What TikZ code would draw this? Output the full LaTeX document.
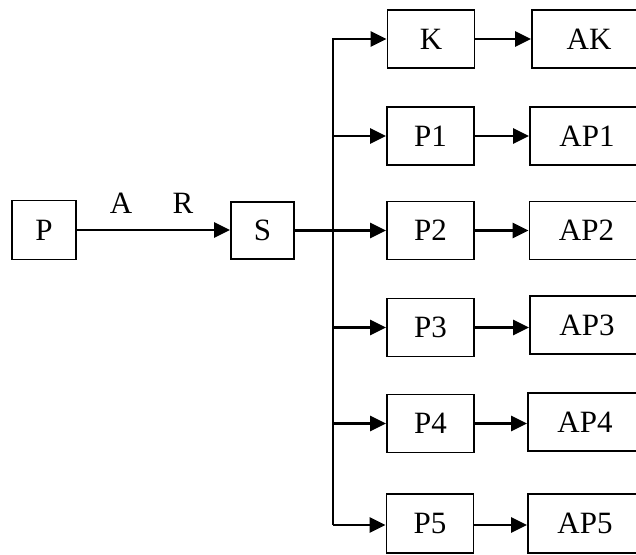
\documentclass[tikz,border=0pt]{standalone}
\usepackage{fontspec}
\setmainfont{Liberation Serif}
\usetikzlibrary{arrows.meta}
\begin{document}
\begin{tikzpicture}[x=1pt,y=-1pt,
  box/.style={draw,line width=1.8pt,minimum height=58pt,inner sep=0pt,font=\fontsize{31}{37}\selectfont},
  lbl/.style={inner sep=0pt,font=\fontsize{31}{37}\selectfont},
  conn/.style={line width=2.5pt,-{Triangle[length=16pt,width=15pt]}},
  wire/.style={line width=2.5pt}]
\useasboundingbox (0,0) rectangle (636,554);
\clip (0,0) rectangle (636,554);
% left
\node[box,minimum width=64pt,minimum height=59pt] (P) at (44,230) {P};
\node[box,minimum width=63pt,minimum height=57pt] (S) at (262.5,230.5) {S};
\node[lbl,anchor=base] (A) at (121,213) {A};
\node[lbl,anchor=base] (R) at (183,213) {R};
\draw[conn] (P.east) -- (S.west |- P.east);
% middle column
\node[box,minimum width=87pt] (K)  at (431,39)  {K};
\node[box,minimum width=87pt] (P1) at (430.5,136) {P1};
\node[box,minimum width=87pt] (P2) at (430.5,230.5) {P2};
\node[box,minimum width=87pt] (P3) at (430.5,327.5) {P3};
\node[box,minimum width=87pt] (P4) at (430.5,423.5) {P4};
\node[box,minimum width=87pt,minimum height=59pt] (P5) at (430,523.5) {P5};
% right column (cut by the right edge)
\node[box,minimum width=114pt] (AK)  at (589,39)  {AK};
\node[box,minimum width=114pt] (AP1) at (587,136) {AP1};
\node[box,minimum width=114pt] (AP2) at (586.5,230.5) {AP2};
\node[box,minimum width=114pt] (AP3) at (587,325) {AP3};
\node[box,minimum width=114pt] (AP4) at (585,422) {AP4};
\node[box,minimum width=114pt,minimum height=59pt] (AP5) at (585,523.5) {AP5};
% branch
\coordinate (top) at (333,39);
\coordinate (bot) at (333,525);
\draw[wire] (S.east) -- (top |- S.east);
\draw[conn,line join=miter] (bot) -- (top) -- (K.west);
\draw[conn] (top |- P1) -- (P1.west);
\draw[conn] (top |- P2) -- (P2.west);
\draw[conn] (top |- P3) -- (P3.west);
\draw[conn] (top |- P4) -- (P4.west);
\draw[conn] (bot) -- (bot -| P5.west);
% second arrows
\draw[conn] (K.east) -- (AK.west |- K.east);
\draw[conn] (P1.east) -- (AP1.west |- P1.east);
\draw[conn] (P2.east) -- (AP2.west |- P2.east);
\draw[conn] (P3.east) -- (AP3.west |- P3.east);
\draw[conn] (P4.east) -- (AP4.west |- P4.east);
\draw[conn] (P5.east |- bot) -- (AP5.west |- bot);
\end{tikzpicture}
\end{document}
